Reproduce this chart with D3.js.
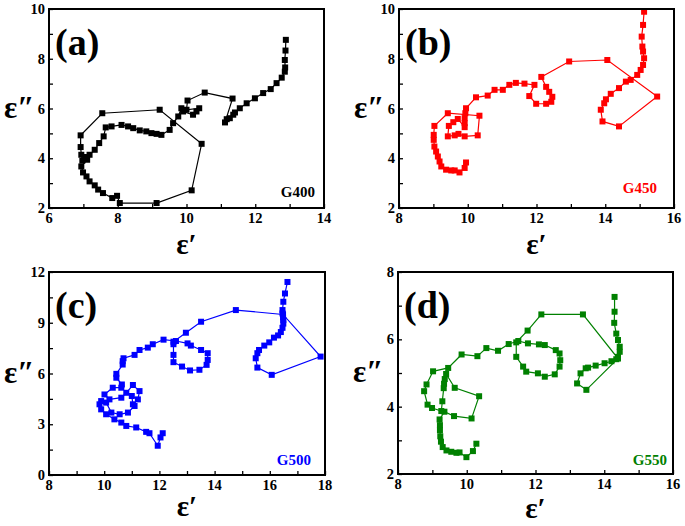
<!DOCTYPE html>
<html>
<head>
<meta charset="utf-8">
<script src="https://cdn.jsdelivr.net/npm/d3@7"></script>
<style>
  body { margin: 0; background: #fff; }
  text { font-family: "Liberation Serif", "Times New Roman", serif; font-weight: bold; }
</style>
</head>
<body>
<svg id="chart" width="685" height="526"></svg>
<script>

const g400Re = [12.89, 12.88, 12.86, 12.87, 12.86, 12.77, 12.62, 12.45, 12.23, 11.99, 11.75, 11.55, 11.41, 11.36, 11.26, 11.17, 11.12,
  11.34, 10.53, 10.03, 10.00, 10.37, 10.29, 10.19, 9.90, 9.85, 9.76, 9.61, 9.51, 9.27, 9.13, 8.98, 8.83, 8.64, 8.45, 8.30, 8.11,
  7.82, 7.65, 7.59, 7.46, 7.33, 7.18, 7.11, 6.94, 6.99, 7.09, 7.18, 7.33, 7.43, 7.57, 7.84, 7.98, 8.06, 9.13, 10.15, 10.44,
  9.22, 7.55, 6.92, 6.92, 6.94, 6.97, 7.05];
const g400Im = [8.76, 8.33, 7.95, 7.65, 7.48, 7.24, 7.02, 6.78, 6.62, 6.41, 6.21, 6.01, 5.84, 5.75, 5.61, 5.57, 5.44,
  6.40, 6.64, 6.32, 5.95, 6.01, 5.88, 5.75, 5.88, 6.01, 5.68, 5.41, 5.14, 4.94, 4.98, 5.01, 5.08, 5.12, 5.21, 5.28, 5.34,
  5.28, 5.24, 4.88, 4.61, 4.34, 4.14, 3.94, 3.67, 3.43, 3.27, 3.07, 2.91, 2.74, 2.60, 2.40, 2.49, 2.20, 2.20, 2.71, 4.58,
  5.95, 5.81, 4.92, 4.45, 4.14, 3.90, 4.05];

const g450Re = [15.13, 15.10, 15.06, 15.08, 15.10, 15.13, 15.10, 15.03, 14.93, 14.74, 14.60, 14.40, 14.16, 14.02, 13.97, 13.87,
  13.92, 14.40, 15.51, 14.06, 12.95, 12.14, 12.28, 12.37, 12.46, 12.43, 12.28, 11.99, 11.79, 11.94, 11.65, 11.40, 11.21,
  11.02, 10.78, 10.58, 10.24, 9.95, 9.93, 9.91, 9.91, 9.91, 9.71, 9.58, 9.45, 9.42, 9.62, 9.73, 9.91, 10.29, 10.34, 9.42,
  9.03, 9.01, 9.01, 9.03, 9.08, 9.13, 9.18, 9.23, 9.37, 9.52, 9.62, 9.76, 9.91, 9.95];
const g450Im = [9.89, 9.36, 8.89, 8.49, 8.29, 8.02, 7.75, 7.55, 7.35, 7.15, 7.08, 6.82, 6.59, 6.37, 6.21, 5.95,
  5.48, 5.28, 6.48, 7.95, 7.89, 7.27, 6.87, 6.67, 6.47, 6.27, 6.19, 6.19, 6.50, 6.95, 7.00, 7.03, 6.95,
  6.75, 6.75, 6.52, 6.45, 6.01, 5.81, 5.61, 5.41, 5.25, 5.58, 5.45, 5.30, 4.88, 4.92, 4.98, 4.88, 4.92, 5.71, 5.81,
  5.30, 4.94, 4.74, 4.47, 4.27, 4.07, 3.87, 3.67, 3.54, 3.51, 3.51, 3.43, 3.61, 3.83];

const g500Re = [16.64, 16.55, 16.49, 16.46, 16.46, 16.48, 16.49, 16.49, 16.46, 16.40, 16.30, 16.15, 15.98, 15.80, 15.61, 15.55,
  15.49, 15.55, 16.07, 17.84, 16.48, 14.77, 13.51, 12.96, 12.51, 12.51, 12.51, 12.51, 12.82, 13.11, 13.45, 13.71, 13.75,
  13.75, 13.51, 13.14, 13.02, 12.60, 12.15, 11.76, 11.58, 11.28, 11.10, 10.70, 10.67, 10.67, 10.44, 10.44, 10.64, 10.62,
  10.31, 10.01, 10.19, 10.62, 10.80, 11.04, 11.28, 11.22, 11.00, 11.04, 11.10, 10.86, 10.56, 10.26, 10.07, 9.89, 9.83,
  9.89, 10.07, 10.37, 10.62, 10.80, 11.16, 11.52, 11.64, 11.94, 12.04, 12.12];
const g500Im = [11.41, 10.73, 10.24, 9.75, 9.55, 9.30, 9.16, 8.95, 8.70, 8.45, 8.25, 8.12, 7.84, 7.65, 7.39, 7.20,
  6.90, 6.35, 5.92, 7.00, 9.49, 9.75, 9.06, 8.41, 7.88, 7.73, 7.10, 6.67, 6.41, 6.18, 6.22, 6.51, 6.80,
  7.20, 7.39, 7.65, 7.78, 7.92, 8.00, 7.73, 7.53, 7.39, 7.10, 6.90, 6.73, 6.53, 5.98, 5.75, 5.35, 5.16,
  5.16, 4.76, 4.47, 4.57, 4.86, 5.32, 4.96, 4.47, 4.67, 4.18, 4.08, 3.69, 3.59, 3.69, 4.28, 4.37, 4.18,
  3.88, 3.59, 3.29, 3.10, 2.90, 2.81, 2.55, 2.47, 1.73, 2.22, 2.47];

const g550Re = [14.30, 14.30, 14.29, 14.35, 14.40, 14.45, 14.45, 14.40, 14.35, 14.21, 14.01, 13.75, 13.53, 13.46, 13.31, 13.21,
  13.48, 14.40, 13.38, 12.17, 11.77, 11.44, 11.44, 11.64, 11.73, 12.07, 12.27, 12.56, 12.70, 12.72, 12.70, 12.59, 12.27,
  12.10, 11.78, 11.50, 11.22, 10.91, 10.57, 10.31, 9.85, 9.46, 9.02, 8.83, 8.76, 8.86, 8.99, 9.26, 9.29, 9.33, 9.34, 9.36,
  9.40, 9.65, 10.36, 10.14, 9.63, 9.35, 9.21, 9.22, 9.22, 9.23, 9.25, 9.30, 9.41, 9.55, 9.70, 9.79, 9.99, 10.18, 10.28];
const g550Im = [7.26, 6.82, 6.49, 6.17, 5.98, 5.78, 5.63, 5.48, 5.41, 5.35, 5.29, 5.22, 5.16, 5.14, 4.99, 4.69,
  4.50, 5.43, 6.74, 6.74, 6.26, 5.91, 5.48, 5.19, 5.04, 4.99, 4.89, 4.96, 5.19, 5.38, 5.58, 5.68, 5.83,
  5.85, 5.88, 5.95, 5.86, 5.66, 5.74, 5.50, 5.55, 5.15, 5.05, 4.66, 4.46, 4.06, 3.96, 3.87, 4.16, 4.55, 4.68, 4.82,
  4.97, 4.56, 4.31, 3.65, 3.72, 3.85, 3.62, 3.45, 3.30, 3.12, 2.96, 2.80, 2.70, 2.66, 2.63, 2.64, 2.50, 2.68, 2.90];

const sampleNames = ['G400', 'G450', 'G500', 'G550'];
const panelTags = ['(a)', '(b)', '(c)', '(d)'];
const xTickValues = [[6, 8, 10, 12, 14], [8, 10, 12, 14, 16], [8, 10, 12, 14, 16, 18], [8, 10, 12, 14, 16]];
const yTickValues = [[2, 4, 6, 8, 10], [2, 4, 6, 8, 10], [0, 3, 6, 9, 12], [2, 4, 6, 8]];

const panels = [
  { re: g400Re, im: g400Im, color: '#000000', left: 49, top: 9, w: 275, h: 199, nameRight: 9, nameBase: 11, titleGap: 46 },
  { re: g450Re, im: g450Im, color: '#ff0000', left: 399, top: 9, w: 275, h: 199, nameRight: 17, nameBase: 15, titleGap: 46 },
  { re: g500Re, im: g500Im, color: '#0000ff', left: 49, top: 272, w: 276, h: 203, nameRight: 14, nameBase: 10, titleGap: 41 },
  { re: g550Re, im: g550Im, color: '#008000', left: 398, top: 272, w: 275, h: 202, nameRight: 6, nameBase: 9, titleGap: 44 }
];

const svg = d3.select('#chart');

panels.forEach((p, i) => {
  const xt = xTickValues[i], yt = yTickValues[i];
  const x = d3.scaleLinear().domain([xt[0], xt[xt.length - 1]]).range([0, p.w]);
  const y = d3.scaleLinear().domain([yt[0], yt[yt.length - 1]]).range([p.h, 0]);
  const xStep = (xt[1] - xt[0]) / 2, yStep = (yt[1] - yt[0]) / 2;
  const xMinor = d3.range(xt[0], xt[xt.length - 1] + 1e-6, xStep);
  const yMinor = d3.range(yt[0], yt[yt.length - 1] + 1e-6, yStep);

  const g = svg.append('g').attr('transform', `translate(${p.left},${p.top})`);

  // inward ticks
  g.append('g').attr('transform', `translate(0,${p.h})`)
    .call(d3.axisBottom(x).tickValues(xMinor).tickSize(-4).tickFormat(''))
    .call(a => a.select('.domain').remove())
    .selectAll('line').attr('stroke', '#000').attr('stroke-width', 1.3);
  g.append('g')
    .call(d3.axisLeft(y).tickValues(yMinor).tickSize(-4).tickFormat(''))
    .call(a => a.select('.domain').remove())
    .selectAll('line').attr('stroke', '#000').attr('stroke-width', 1.3);

  // tick labels
  g.selectAll('.xl').data(xt).enter().append('text')
    .attr('x', d => x(d)).attr('y', p.h + 15)
    .attr('text-anchor', 'middle').attr('font-size', 14.5).text(d => d);
  g.selectAll('.yl').data(yt).enter().append('text')
    .attr('x', -4).attr('y', d => y(d)).attr('dy', '0.35em')
    .attr('text-anchor', 'end').attr('font-size', 14.5).text(d => d);

  // data
  const line = d3.line().x((d, k) => x(p.re[k])).y((d, k) => y(p.im[k]));
  g.append('path').datum(p.re)
    .attr('d', line).attr('fill', 'none')
    .attr('stroke', p.color).attr('stroke-width', 1.2);
  g.selectAll('.pt').data(p.re).enter().append('rect')
    .attr('x', (d, k) => x(p.re[k]) - 3).attr('y', (d, k) => y(p.im[k]) - 3)
    .attr('width', 6).attr('height', 6).attr('fill', p.color);

  // frame
  g.append('rect').attr('width', p.w).attr('height', p.h)
    .attr('fill', 'none').attr('stroke', '#000').attr('stroke-width', 2);

  // labels
  g.append('text').attr('x', 6).attr('y', 46).attr('font-size', 38).text(panelTags[i]);
  g.append('text').attr('x', p.w - p.nameRight).attr('y', p.h - p.nameBase)
    .attr('text-anchor', 'end').attr('font-size', 15).attr('fill', p.color).text(sampleNames[i]);
  g.append('text').attr('x', p.w / 2).attr('y', p.h + p.titleGap)
    .attr('text-anchor', 'middle').attr('font-size', 29).text('ε′');
  g.append('text').attr('x', -45).attr('y', p.h / 2 + 9)
    .attr('text-anchor', 'start').attr('font-size', 31).text('ε″');
});
</script>
</body>
</html>
